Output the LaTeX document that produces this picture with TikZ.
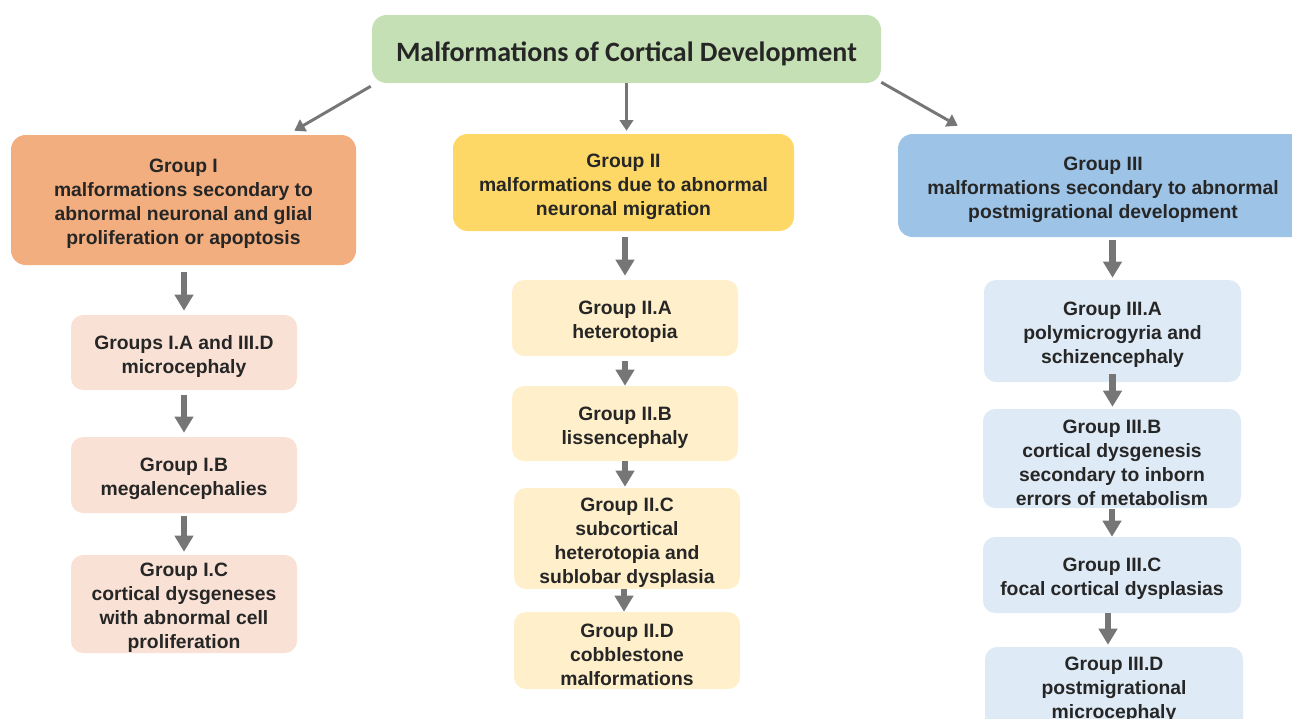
\documentclass[tikz,border=0pt]{standalone}
\usepackage{fontspec}
\setmainfont{Liberation Sans}
\newfontfamily\titlefont{Carlito}
\usetikzlibrary{arrows.meta}

\definecolor{titlegreen}{HTML}{C5E0B4}
\definecolor{grpone}{HTML}{F2AE7E}
\definecolor{grptwo}{HTML}{FDD866}
\definecolor{grpthree}{HTML}{9DC3E6}
\definecolor{subone}{HTML}{F9E2D5}
\definecolor{subtwo}{HTML}{FFF0CB}
\definecolor{subthree}{HTML}{DEEAF6}
\definecolor{textgray}{HTML}{262626}
\definecolor{arrowgray}{HTML}{767676}

% taller first line, so the text block sits a little lower in its box
\newcommand\firstline{\rule{0pt}{16pt}}

\begin{document}
\begin{tikzpicture}[x=0.75pt,y=-0.75pt,
  box/.style={rounded corners=9pt, align=center, inner sep=0pt, text=textgray,
              font=\bfseries\fontsize{14.5}{18}\selectfont},
  bigbox/.style={box, rounded corners=11pt},
  thinarrow/.style={draw=arrowgray, line width=2.2pt,
              -{Triangle[width=10pt,length=8pt]}},
  thickarrow/.style={draw=arrowgray, line width=5.2pt,
              -{Triangle[width=13.5pt,length=12pt]}}]

\useasboundingbox (0,0) rectangle (1292,718);
\clip (0,0) rectangle (1292,718);

% top node
\node[rounded corners=11pt, inner sep=0pt, text=textgray, fill=titlegreen,
      minimum width=381.75pt, minimum height=51pt,
      font=\titlefont\bfseries\fontsize{21}{25}\selectfont] (title) at (626.5,49)
      {\raisebox{-4pt}[\height][\depth]{Malformations of Cortical Development}};

% the three main groups
\node[bigbox, fill=grpone, minimum width=258.75pt, minimum height=97.5pt] (g1) at (183.5,200)
  {\firstline Group I\\malformations secondary to\\abnormal neuronal and glial\\proliferation or apoptosis};
\node[bigbox, fill=grptwo, minimum width=255.75pt, minimum height=72.75pt] (g2) at (623.5,182.5)
  {\firstline Group II\\malformations due to abnormal\\neuronal migration};
\node[bigbox, fill=grpthree, minimum width=307.5pt, minimum height=77.25pt] (g3) at (1103,185.5)
  {\firstline Group III\\malformations secondary to abnormal\\postmigrational development};

% group I subgroups
\node[box, fill=subone, minimum width=169.5pt, minimum height=56.25pt] (g1a) at (184,352.5)
  {\firstline Groups I.A and III.D\\microcephaly};
\node[box, fill=subone, minimum width=169.5pt, minimum height=57pt] (g1b) at (184,475)
  {\firstline Group I.B\\megalencephalies};
\node[box, fill=subone, minimum width=169.5pt, minimum height=73.5pt] (g1c) at (184,604)
  {\firstline Group I.C\\cortical dysgeneses\\with abnormal cell\\proliferation};

% group II subgroups
\node[box, fill=subtwo, minimum width=169.5pt, minimum height=57pt] (g2a) at (625,318)
  {\firstline Group II.A\\heterotopia};
\node[box, fill=subtwo, minimum width=169.5pt, minimum height=56.25pt] (g2b) at (625,423.5)
  {\firstline Group II.B\\lissencephaly};
\node[box, fill=subtwo, minimum width=169.5pt, minimum height=75.75pt] (g2c) at (627,538.5)
  {\firstline Group II.C\\subcortical\\heterotopia and\\sublobar dysplasia};
\node[box, fill=subtwo, minimum width=169.5pt, minimum height=57.75pt] (g2d) at (627,650.5)
  {\firstline Group II.D\\cobblestone\\malformations};

% group III subgroups
\node[box, fill=subthree, minimum width=192.75pt, minimum height=76.5pt] (g3a) at (1112.5,331)
  {\firstline Group III.A\\polymicrogyria and\\schizencephaly};
\node[box, fill=subthree, minimum width=193.5pt, minimum height=74.25pt] (g3b) at (1112,458.5)
  {\firstline Group III.B\\cortical dysgenesis\\secondary to inborn\\errors of metabolism};
\node[box, fill=subthree, minimum width=193.5pt, minimum height=57pt] (g3c) at (1112,575)
  {\firstline Group III.C\\focal cortical dysplasias};
\node[box, fill=subthree, minimum width=193.5pt, minimum height=64.5pt] (g3d) at (1114,690)
  {Group III.D\\postmigrational\\microcephaly};

% arrows from the top node
\draw[thinarrow] ([xshift=-0.75pt,yshift=-2.25pt]title.south west)
  -- ([xshift=-46.5pt,yshift=3pt]g1.north east);
\draw[thinarrow, shorten >=2.25pt] (title.south) -- (title.south |- g2.north);
\draw[thinarrow] ([yshift=0.75pt]title.south east)
  -- ([xshift=45pt,yshift=6pt]g3.north west);

% arrows down each column
\draw[thickarrow, shorten <=5.25pt, shorten >=3pt] (g1.south -| g1a) -- (g1a.north);
\draw[thickarrow, shorten <=3.75pt, shorten >=3pt] (g1a.south) -- (g1b.north);
\draw[thickarrow, shorten <=2.25pt, shorten >=2.25pt] (g1b.south) -- (g1c.north);

\draw[thickarrow, shorten <=4.5pt, shorten >=3pt] (g2.south -| g2a) -- (g2a.north);
\draw[thickarrow, shorten <=3.75pt] (g2a.south) -- (g2b.north);
\draw[thickarrow, shorten >=0.75pt] (g2b.south) -- (g2b.south |- g2c.north);
\draw[thickarrow] ([xshift=-2.25pt]g2c.south) -- ([xshift=-2.25pt]g2d.north);

\draw[thickarrow, shorten <=2.25pt, shorten >=1.5pt] (g3.south -| g3a) -- (g3a.north);
\draw[thickarrow, shorten <=-6pt, shorten >=1.5pt] (g3a.south) -- (g3a.south |- g3b.north);
\draw[thickarrow, shorten <=0.75pt] (g3b.south) -- (g3c.north);
\draw[thickarrow, shorten >=1.5pt] ([xshift=-3pt]g3c.south) -- ([xshift=-3pt]g3c.south |- g3d.north);

\end{tikzpicture}
\end{document}
